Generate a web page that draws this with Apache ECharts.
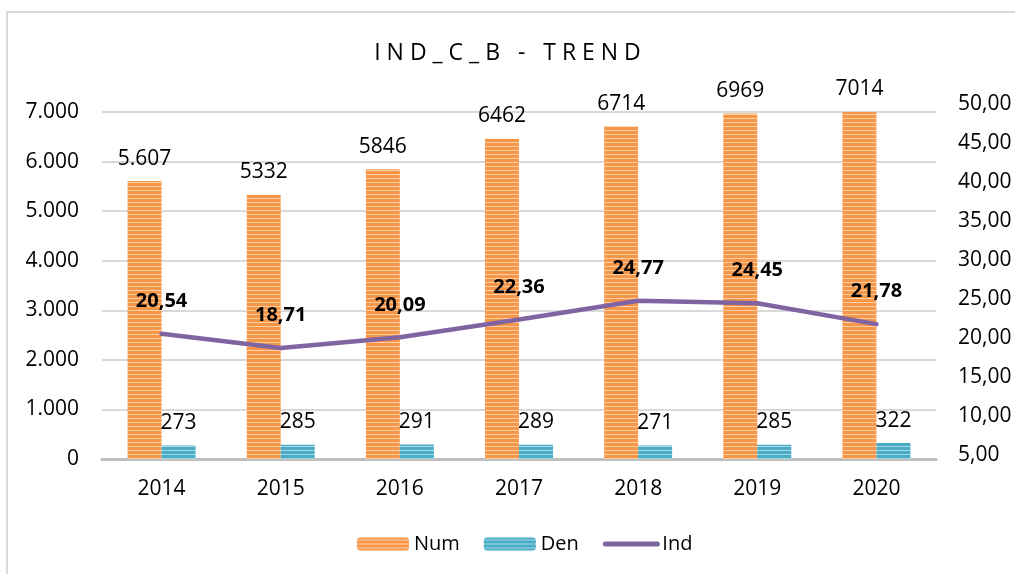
<!DOCTYPE html>
<html>
<head>
<meta charset="utf-8">
<style>
  html, body { margin: 0; padding: 0; background: #ffffff; }
  #chart { width: 1015px; height: 574px; }
</style>
<script src="https://cdn.jsdelivr.net/npm/echarts@6/dist/echarts.min.js"></script>
</head>
<body>
<div id="chart"></div>
<script>
// Years on the category axis
const years = ['2014', '2015', '2016', '2017', '2018', '2019', '2020'];
// Numerator counts (left axis)
const numValues = [5607, 5332, 5846, 6462, 6714, 6969, 7014];
// Text printed above each numerator bar
const numLabels = ['5.607', '5332', '5846', '6462', '6714', '6969', '7014'];
// Denominator counts (left axis)
const denValues = [273, 285, 291, 289, 271, 285, 322];
// Indicator values (right axis)
const indValues = [20.54, 18.71, 20.09, 22.36, 24.77, 24.45, 21.78];

const FONT = 'Open Sans';

// Horizontal stripe fill used for the bars
function stripes(dark, light) {
  const c = document.createElement('canvas');
  c.width = 4; c.height = 4;
  const g = c.getContext('2d');
  g.fillStyle = dark; g.fillRect(0, 0, 4, 4);
  g.fillStyle = light; g.fillRect(0, 2, 4, 1);
  return { image: c, repeat: 'repeat' };
}
const orangeFill = stripes('#F79646', '#FBCFA8');
const blueFill = stripes('#4BACC6', '#A8D8E6');

const comma2 = v => v.toFixed(2).replace('.', ',');
const dotThousands = v => String(Math.round(v)).replace(/\B(?=(\d{3})+(?!\d))/g, '.');

const chart = echarts.init(document.getElementById('chart'), null, { renderer: 'canvas' });

chart.setOption({
  backgroundColor: '#ffffff',
  animation: false,
  textStyle: { fontFamily: FONT },
  title: {
    text: 'I N D _ C _ B   -   T R E N D',
    left: 'center',
    top: 37,
    textStyle: { fontFamily: FONT, fontSize: 23, fontWeight: 'normal', color: '#000000' }
  },
  // Chart-area frame: only its left and top edges fall inside the canvas
  graphic: [{
    type: 'polyline',
    shape: { points: [[7, 574], [7, 12], [1015, 12]] },
    style: { fill: null, stroke: '#D9D9D9', lineWidth: 2 },
    silent: true,
    z: -10
  }],
  legend: {
    top: 534,
    left: 357,
    padding: 0,
    itemWidth: 52,
    itemHeight: 13,
    itemGap: 24,
    textStyle: { fontFamily: FONT, fontSize: 20, color: '#000000' },
    data: [
      { name: 'Num' },
      { name: 'Den' },
      { name: 'Ind', itemStyle: { opacity: 0 }, lineStyle: { width: 5, cap: 'round' } }
    ]
  },
  grid: [
    { left: 102, right: 79, top: 112, bottom: 115 },
    { left: 102, right: 79, top: 104, bottom: 119 }
  ],
  xAxis: [{
    type: 'category',
    gridIndex: 0,
    data: years,
    axisLine: { lineStyle: { color: '#BFBFBF', width: 3 } },
    axisTick: { show: false },
    axisLabel: { fontFamily: FONT, fontSize: 21, color: '#000000', margin: 20 }
  }, {
    type: 'category',
    gridIndex: 1,
    data: years,
    show: false
  }],
  yAxis: [{
    type: 'value',
    gridIndex: 0,
    min: 0,
    max: 7000,
    interval: 1000,
    axisLine: { show: false },
    axisTick: { show: false },
    splitLine: { lineStyle: { color: '#D9D9D9', width: 2 } },
    axisLabel: { fontFamily: FONT, fontSize: 21, color: '#000000', margin: 23, formatter: dotThousands }
  }, {
    type: 'value',
    gridIndex: 1,
    position: 'right',
    min: 5,
    max: 50,
    interval: 5,
    axisLine: { show: false },
    axisTick: { show: false },
    splitLine: { show: false },
    axisLabel: { fontFamily: FONT, fontSize: 21, color: '#000000', margin: 22, formatter: comma2 }
  }],
  series: [{
    name: 'Num',
    type: 'bar',
    xAxisIndex: 0,
    yAxisIndex: 0,
    data: numValues,
    barWidth: 34,
    barGap: '0%',
    itemStyle: { color: orangeFill },
    label: {
      show: true,
      position: 'top',
      distance: 12,
      fontFamily: FONT,
      fontSize: 21,
      color: '#000000',
      formatter: p => numLabels[p.dataIndex]
    }
  }, {
    name: 'Den',
    type: 'bar',
    xAxisIndex: 0,
    yAxisIndex: 0,
    data: denValues,
    barWidth: 34,
    barGap: '0%',
    itemStyle: { color: blueFill },
    label: {
      show: true,
      position: 'top',
      distance: 12,
      fontFamily: FONT,
      fontSize: 21,
      color: '#000000'
    }
  }, {
    name: 'Ind',
    type: 'line',
    xAxisIndex: 1,
    yAxisIndex: 1,
    data: indValues,
    symbol: 'circle',
    symbolSize: 1,
    showSymbol: true,
    lineStyle: { color: '#8064A2', width: 4.5, cap: 'round', join: 'round' },
    itemStyle: { color: '#8064A2' },
    z: 5,
    labelLayout: { hideOverlap: false },
    label: {
      show: true,
      position: 'top',
      distance: 22,
      fontFamily: FONT,
      fontSize: 20,
      fontWeight: 'bold',
      color: '#000000',
      formatter: p => comma2(p.value)
    }
  }]
});
</script>
</body>
</html>
